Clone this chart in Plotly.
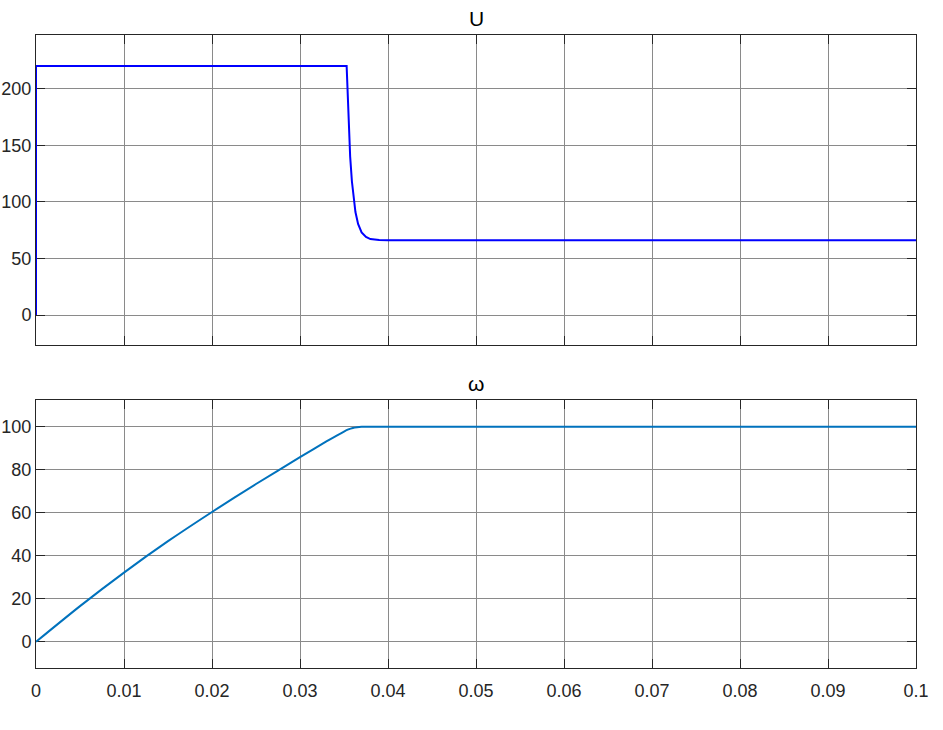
import plotly.graph_objects as go
from plotly.subplots import make_subplots

# ---- data ----
u_t = [0, 0, 0.0353, 0.0355, 0.0357, 0.0359, 0.0361, 0.0363, 0.0366, 0.0370,
       0.0375, 0.0380, 0.0390, 0.0400, 0.1]
u_val = [0, 220, 220, 173, 140, 118, 102, 91, 80.5, 73, 69, 67.1, 66.2, 66, 66]

w_t = [0, 0.005, 0.01, 0.015, 0.02, 0.025, 0.03, 0.033, 0.035, 0.0355, 0.036,
       0.0365, 0.037, 0.038, 0.1]
w_val = [0, 16.6, 32.2, 46.8, 60.4, 73.4, 85.9, 93.2, 97.8, 98.8, 99.5, 99.85, 100, 100, 100]

x_ticks = [0, 0.01, 0.02, 0.03, 0.04, 0.05, 0.06, 0.07, 0.08, 0.09, 0.1]
x_labels = ["0", "0.01", "0.02", "0.03", "0.04", "0.05", "0.06", "0.07", "0.08", "0.09", "0.1"]
u_ticks = [0, 50, 100, 150, 200]
w_ticks = [0, 20, 40, 60, 80, 100]
titles = ["U", "ω"]

FONT = "Liberation Sans, Arial, sans-serif"

fig = make_subplots(rows=2, cols=1)
fig.add_trace(go.Scatter(x=u_t, y=u_val, mode="lines",
                         line=dict(color="#0000FF", width=2), showlegend=False), row=1, col=1)
fig.add_trace(go.Scatter(x=w_t, y=w_val, mode="lines", line_shape="spline",
                         line=dict(color="#0072BD", width=2, smoothing=0.6), showlegend=False),
              row=2, col=1)

axis_common = dict(showline=True, linecolor="#262626", linewidth=1, mirror="ticks",
                   ticks="inside", ticklen=9, tickcolor="#262626", tickwidth=1,
                   showgrid=True, gridcolor="#8a8a8a", gridwidth=1, zeroline=False,
                   automargin=False, layer="below traces",
                   tickfont=dict(family=FONT, size=18, color="#262626"))

fig.update_xaxes(**axis_common, range=[0, 0.1], tickvals=x_ticks, ticktext=x_labels)
fig.update_xaxes(showticklabels=False, row=1, col=1)
fig.update_xaxes(ticklabelstandoff=6, row=2, col=1)
fig.update_yaxes(**axis_common)
fig.update_yaxes(range=[-26.5, 247.5], tickvals=u_ticks, row=1, col=1)
fig.update_yaxes(range=[-12.2, 112.5], tickvals=w_ticks, row=2, col=1)

fig.update_layout(
    width=943, height=730,
    margin=dict(l=36, r=27, t=35, b=62),
    plot_bgcolor="white", paper_bgcolor="white",
    xaxis=dict(domain=[0, 1]), xaxis2=dict(domain=[0, 1]),
    yaxis=dict(domain=[0.5103, 1]), yaxis2=dict(domain=[0, 0.4234]),
    annotations=[
        dict(text=titles[0], x=0.5, xref="paper", y=1, yref="paper", yanchor="bottom",
             yshift=3, showarrow=False, font=dict(family=FONT, size=21, color="#000000")),
        dict(text=titles[1], x=0.5, xref="paper", y=0.4234, yref="paper", yanchor="bottom",
             yshift=3, showarrow=False, font=dict(family=FONT, size=21, color="#000000")),
    ],
)

fig.write_html("out.html", config={"displayModeBar": False},
               post_script="document.body.style.margin='0';document.body.style.overflow='hidden';")
